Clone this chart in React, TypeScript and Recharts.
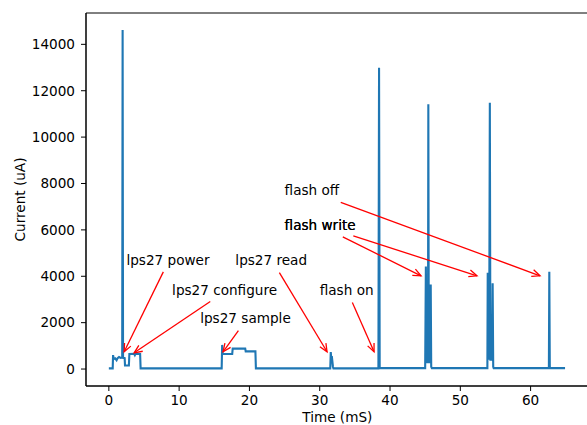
import React from 'react';
import { LineChart, Line, XAxis, YAxis, ReferenceLine, ReferenceDot, ReferenceArea, Label } from 'recharts';

// time (mS) and current (uA) of the trace
const times = [
  0, 0.55, 0.6, 0.7, 0.9, 1.1, 1.25, 1.45, 1.7, 1.9, 1.96, 2.02, 2.25, 2.3, 2.85, 2.92, 3.6, 3.7, 3.8, 4.45, 4.52,
  16.05, 16.12, 16.2, 17.55, 17.62, 19.4, 19.47, 20.85, 20.92,
  31.5, 31.57, 31.65, 31.72, 31.88, 31.95,
  38.35, 38.44, 38.53,
  45.0, 45.05, 45.1, 45.17, 45.25, 45.4, 45.45, 45.52, 45.72, 45.79, 45.86, 45.95,
  53.85, 53.9, 53.97, 54.1, 54.2, 54.28, 54.52, 54.6, 54.68, 54.75,
  62.6, 62.66, 62.73, 62.8, 64.9,
];
const currents = [
  30, 30, 600, 430, 460, 380, 470, 520, 480, 500, 14620, 480, 470, 150, 150, 650, 660, 600, 660, 650, 30,
  30, 1040, 650, 650, 880, 880, 760, 760, 30,
  30, 730, 420, 560, 100, 30,
  30, 12990, 40,
  40, 2200, 4420, 1500, 300, 300, 11420, 300, 300, 3650, 100, 40,
  40, 4150, 1000, 400, 11480, 400, 400, 3700, 100, 40,
  40, 4200, 100, 40, 40,
];

const xTicks = [0, 10, 20, 30, 40, 50, 60];
const yTicks = [0, 2000, 4000, 6000, 8000, 10000, 12000, 14000];
const xDomain = [-3.25, 68.25];
const yDomain = [-731, 15351];

// annotations: label, text anchor (left/baseline), arrow tail, arrow head
const annoLabels = ['lps27 power', 'lps27 configure', 'lps27 sample', 'lps27 read', 'flash on', 'flash write', 'flash write', 'flash off'];
const annoTextX = [2.5, 9, 13, 18, 30, 25, 25, 25];
const annoTextY = [4500, 3200, 2000, 4500, 3200, 6000, 6000, 7500];
const annoTailX = [7.75, 14.43, 18.43, 24.26, 34.64, 33.28, 34.78, 32.99];
const annoTailY = [4190, 2910, 1660, 4160, 2870, 5700, 5740, 7190];
const annoHeadX = [2.18, 3.6, 16.25, 31.04, 37.73, 44.41, 52.37, 61.33];
const annoHeadY = [745, 700, 745, 745, 745, 4020, 4020, 4020];

const data = times.map((t, i) => ({ t, i: currents[i] }));

const FONT = 'DejaVu Sans';
const FS = 13.6;

const Arrow = (p: any) => {
  const { x1, y1, x2, y2 } = p;
  const dx = x2 - x1;
  const dy = y2 - y1;
  const len = Math.hypot(dx, dy) || 1;
  const ux = dx / len;
  const uy = dy / len;
  const hl = 8;
  const hw = 3.5;
  const bx = x2 - ux * hl;
  const by = y2 - uy * hl;
  return (
    <g>
      <line x1={x1} y1={y1} x2={x2} y2={y2} stroke="red" strokeWidth={1.3} />
      <polyline
        points={`${bx - uy * hw},${by + ux * hw} ${x2},${y2} ${bx + uy * hw},${by - ux * hw}`}
        fill="none"
        stroke="red"
        strokeWidth={1.3}
      />
    </g>
  );
};

export default function App() {
  return (
    <div style={{ position: 'fixed', left: 0, top: 0, width: 587, height: 425, overflow: 'hidden', background: '#fff' }}>
      <LineChart
        width={600}
        height={425}
        data={data}
        margin={{ top: 13, right: 11.4, left: 0, bottom: 0 }}
        style={{ fontFamily: FONT }}
      >
        <XAxis
          dataKey="t"
          type="number"
          domain={xDomain}
          ticks={xTicks}
          interval={0}
          height={39}
          stroke="#000"
          tickSize={5}
          tickMargin={4}
          tick={{ fontSize: FS, fill: '#000', fontFamily: FONT }}
          allowDataOverflow
        >
          <Label
            content={(props: any) => {
              const vb = props.viewBox;
              return (
                <text x={vb.x + vb.width / 2} y={vb.y + 35.5} textAnchor="middle" fontSize={FS} fontFamily={FONT} fill="#000">
                  Time (mS)
                </text>
              );
            }}
          />
        </XAxis>
        <YAxis
          type="number"
          domain={yDomain}
          ticks={yTicks}
          interval={0}
          width={86}
          stroke="#000"
          tickSize={5}
          tickMargin={6}
          tick={{ fontSize: FS, fill: '#000', fontFamily: FONT }}
          allowDataOverflow
        >
          <Label
            content={(props: any) => {
              const vb = props.viewBox;
              const cx = vb.x + 19.7;
              const cy = vb.y + vb.height / 2;
              return (
                <text
                  transform={`translate(${cx},${cy}) rotate(-90)`}
                  textAnchor="middle"
                  dominantBaseline="central"
                  fontSize={FS}
                  fontFamily={FONT}
                  fill="#000"
                >
                  Current (uA)
                </text>
              );
            }}
          />
        </YAxis>
        <ReferenceArea
          x1={xDomain[0]}
          x2={xDomain[1]}
          y1={yDomain[0]}
          y2={yDomain[1]}
          fill="none"
          fillOpacity={0}
          stroke="#000"
          strokeWidth={1}
          ifOverflow="visible"
        />
        <Line
          type="linear"
          dataKey="i"
          stroke="#1f77b4"
          strokeWidth={2.1}
          dot={false}
          activeDot={false}
          isAnimationActive={false}
        />
        {annoLabels.map((lab, k) => (
          <ReferenceLine
            key={`a${k}`}
            segment={[
              { x: annoTailX[k], y: annoTailY[k] },
              { x: annoHeadX[k], y: annoHeadY[k] },
            ]}
            shape={Arrow}
          />
        ))}
        {annoLabels.map((lab, k) => (
          <ReferenceDot
            key={`t${k}`}
            x={annoTextX[k]}
            y={annoTextY[k]}
            r={0}
            shape={(p: any) => (
              <text x={p.cx} y={p.cy} fontSize={FS} fontFamily={FONT} fill="#000">
                {lab}
              </text>
            )}
          />
        ))}
      </LineChart>
    </div>
  );
}
